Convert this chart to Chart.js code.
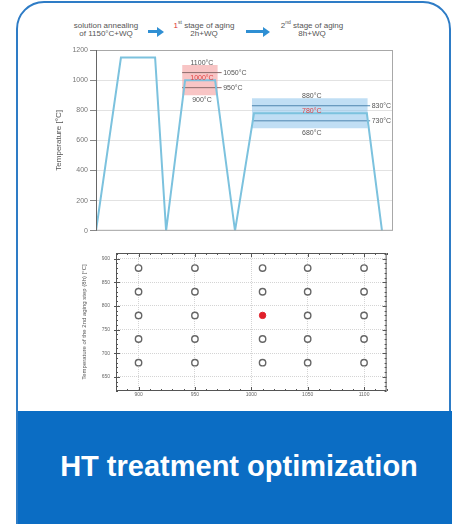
<!DOCTYPE html>
<html><head><meta charset="utf-8">
<script src="https://cdn.jsdelivr.net/npm/chart.js@4.4.1/dist/chart.umd.min.js"></script>
<style>
html,body{margin:0;padding:0;background:#fff;width:452px;height:524px;overflow:hidden;font-family:"Liberation Sans",Arial,sans-serif;}
#card{position:absolute;left:16px;top:1px;width:435px;height:540px;border:2.5px solid #2e7cc6;border-radius:28px 28px 0 0;box-sizing:border-box;background:#fff;}
#banner{position:absolute;left:18px;top:411px;width:434px;height:113px;background:#0b6dc4;}
#bannerText{position:absolute;left:18px;top:411px;width:442px;height:113px;line-height:110px;text-align:center;color:#fff;font-weight:bold;font-size:29px;font-family:"Liberation Sans",Arial,sans-serif;}
.hdr{position:absolute;top:22px;font-size:8px;line-height:8px;color:#555;text-align:center;white-space:nowrap;}
.arrow{position:absolute;height:3px;background:#2f8fd3;}
.arrow:after{content:"";position:absolute;right:-6px;top:-3.5px;border-left:7px solid #2f8fd3;border-top:5px solid transparent;border-bottom:5px solid transparent;}
canvas{position:absolute;}
</style></head>
<body>
<div id="card"></div>
<div class="hdr" style="left:66px;width:80px;">solution annealing<br>of 1150°C+WQ</div>
<div class="arrow" style="left:148px;top:30px;width:10px;"></div>
<div class="hdr" style="left:166px;width:76px;"><span style="color:#d33">1</span><sup style="font-size:5px;line-height:0">st</sup> stage of aging<br>2h+WQ</div>
<div class="arrow" style="left:246px;top:30px;width:18px;"></div>
<div class="hdr" style="left:272px;width:80px;">2<sup style="font-size:5px;line-height:0">nd</sup> stage of aging<br>8h+WQ</div>
<canvas id="top" width="346" height="197" style="left:52px;top:40px;"></canvas>
<canvas id="bot" width="314" height="161" style="left:78px;top:244px;"></canvas>
<div id="banner"></div>
<div id="bannerText">HT treatment optimization</div>
<script>
// ---- Top chart: heat-treatment temperature profile ----
const profileTime = [0, 8.4, 19.9, 23.6, 30, 40.1, 46.8, 53.2, 91.2, 96.3];
const profileTemp = [0, 1150, 1150, 0, 1000, 1000, 0, 780, 780, 0];
const tempTicks = [0, 200, 400, 600, 800, 1000, 1200];
const stage1Span = [29, 41];
const stage1Band = [900, 1100];
const stage1Hold = 1000;
const stage1Refs = [1050, 950];
const stage1RefEnd = 42.3;
const stage2Span = [52.5, 91.5];
const stage2Band = [680, 880];
const stage2Hold = 780;
const stage2Refs = [830, 730];
const stage2RefEnd = 92.3;

// ---- Bottom chart: tested parameter grid ----
const aging1Temps = [900, 950, 1010, 1050, 1100];
const aging2Temps = [680, 730, 780, 830, 880];
const optimum = {x: 1010, y: 780};
const xTicksBot = [900, 950, 1000, 1050, 1100];
const yTicksBot = [650, 700, 750, 800, 850, 900];

const FONT = "'Liberation Sans', Arial, sans-serif";
const plain = v => String(v);

function seg(x0, x1, y) { return [{x: x0, y: y}, {x: x1, y: y}]; }

const profile = profileTime.map((t, i) => ({x: t, y: profileTemp[i]}));

const topDatasets = [
  {label: 'profile', data: profile, borderColor: '#7cc2de', borderWidth: 2, pointRadius: 0, fill: false, order: 0, tension: 0},
  {label: 'b1hi', data: seg(stage1Span[0], stage1Span[1], stage1Band[1]), borderWidth: 0, borderColor: 'rgba(0,0,0,0)', pointRadius: 0, fill: '+1', backgroundColor: 'rgba(242,150,150,0.55)', order: 3},
  {label: 'b1lo', data: seg(stage1Span[0], stage1Span[1], stage1Band[0]), borderWidth: 0, borderColor: 'rgba(0,0,0,0)', pointRadius: 0, fill: false, order: 3},
  {label: 'b2hi', data: seg(stage2Span[0], stage2Span[1], stage2Band[1]), borderWidth: 0, borderColor: 'rgba(0,0,0,0)', pointRadius: 0, fill: '+1', backgroundColor: 'rgba(150,200,236,0.6)', order: 3},
  {label: 'b2lo', data: seg(stage2Span[0], stage2Span[1], stage2Band[0]), borderWidth: 0, borderColor: 'rgba(0,0,0,0)', pointRadius: 0, fill: false, order: 3},
];
stage1Refs.forEach(v => topDatasets.push({label: 'r1_' + v, refLabel: v + '°C', data: seg(stage1Span[0], stage1RefEnd, v), borderColor: '#8a6a6a', borderWidth: 1, pointRadius: 0, fill: false, order: 1}));
stage2Refs.forEach(v => topDatasets.push({label: 'r2_' + v, refLabel: v + '°C', data: seg(stage2Span[0], stage2RefEnd, v), borderColor: '#4f86b0', borderWidth: 1, pointRadius: 0, fill: false, order: 1}));

const topLabels = {
  id: 'topLabels',
  afterDatasetsDraw(chart) {
    const ctx = chart.ctx, xs = chart.scales.x, ys = chart.scales.y, a = chart.chartArea;
    ctx.save();
    ctx.strokeStyle = '#a8a8a8'; ctx.lineWidth = 1;
    ctx.strokeRect(a.left + 0.5, a.top + 0.5, a.right - a.left - 1, a.bottom - a.top - 1);
    ctx.strokeStyle = '#666';
    ctx.beginPath(); ctx.moveTo(a.left + 0.5, a.top); ctx.lineTo(a.left + 0.5, a.bottom); ctx.stroke();
    ctx.font = '7px ' + FONT;
    ctx.textAlign = 'center';
    const stages = [[stage1Span, stage1Band, stage1Hold], [stage2Span, stage2Band, stage2Hold]];
    stages.forEach(([span, band, hold]) => {
      const cx = xs.getPixelForValue((span[0] + span[1]) / 2) + 2;
      ctx.fillStyle = '#555';
      ctx.textBaseline = 'bottom';
      ctx.fillText(band[1] + '°C', cx, ys.getPixelForValue(band[1]) + 1);
      ctx.textBaseline = 'top';
      ctx.fillText(band[0] + '°C', cx, ys.getPixelForValue(band[0]) + 1);
      ctx.fillStyle = '#e04040';
      ctx.textBaseline = 'bottom';
      ctx.fillText(hold + '°C', cx, ys.getPixelForValue(hold) + 1);
    });
    ctx.textAlign = 'left'; ctx.textBaseline = 'middle'; ctx.fillStyle = '#555';
    chart.data.datasets.forEach((ds, i) => {
      if (!ds.refLabel) return;
      const pts = chart.getDatasetMeta(i).data;
      const p = pts[pts.length - 1];
      ctx.fillText(ds.refLabel, p.x + 1.5, p.y);
    });
    ctx.restore();
  }
};

new Chart(document.getElementById('top'), {
  type: 'line',
  data: {datasets: topDatasets},
  options: {
    responsive: false, animation: false, devicePixelRatio: 1,
    layout: {padding: {top: 10, right: 5, bottom: 4, left: 0}},
    plugins: {legend: {display: false}, tooltip: {enabled: false}},
    scales: {
      x: {type: 'linear', min: 0, max: 100, display: false},
      y: {
        min: 0, max: 1200,
        afterFit: s => { s.width = 44; },
        afterBuildTicks: s => { s.ticks = tempTicks.map(v => ({value: v})); },
        ticks: {font: {size: 7, family: FONT}, color: '#777', padding: 2, callback: plain},
        grid: {color: '#e2e2e2', tickLength: 6, drawTicks: true, tickColor: '#888'},
        border: {display: false},
        title: {display: true, text: 'Temperature [°C]', font: {size: 8, family: FONT}, color: '#555', padding: {top: 2, bottom: 2}}
      }
    }
  },
  plugins: [topLabels]
});

// ---- Bottom chart ----
const gridPts = [];
aging1Temps.forEach(x => aging2Temps.forEach(y => {
  if (!(x === optimum.x && y === optimum.y)) gridPts.push({x: x, y: y});
}));

const frameTicks = {
  id: 'frameTicks',
  afterDraw(chart) {
    const ctx = chart.ctx, xs = chart.scales.x, ys = chart.scales.y, a = chart.chartArea;
    ctx.save();
    ctx.strokeStyle = '#555'; ctx.lineWidth = 1;
    ctx.strokeRect(a.left + 0.5, a.top + 0.5, a.right - a.left - 1, a.bottom - a.top - 1);
    ctx.beginPath();
    for (let v = Math.ceil(xs.min / 10) * 10; v <= xs.max; v += 10) {
      const px = Math.round(xs.getPixelForValue(v)) + 0.5;
      const L = v % 50 === 0 ? 4 : 2;
      ctx.moveTo(px, a.bottom); ctx.lineTo(px, a.bottom - L);
      ctx.moveTo(px, a.top); ctx.lineTo(px, a.top + L);
    }
    for (let v = Math.ceil(ys.min / 10) * 10; v <= ys.max; v += 10) {
      const py = Math.round(ys.getPixelForValue(v)) + 0.5;
      const L = v % 50 === 0 ? 4 : 2;
      ctx.moveTo(a.left - (L > 2 ? 2 : 0), py); ctx.lineTo(a.left + L, py);
      ctx.moveTo(a.right, py); ctx.lineTo(a.right - L, py);
    }
    ctx.stroke();
    ctx.restore();
  }
};

new Chart(document.getElementById('bot'), {
  type: 'scatter',
  data: {datasets: [
    {data: gridPts, pointRadius: 3.2, pointBorderWidth: 1.4, pointBorderColor: '#666', pointBackgroundColor: 'rgba(255,255,255,1)', order: 1},
    {data: [optimum], pointRadius: 3.2, pointBorderWidth: 1, pointBorderColor: '#e0202a', pointBackgroundColor: '#e0202a', order: 0}
  ]},
  options: {
    responsive: false, animation: false, devicePixelRatio: 1,
    layout: {padding: {top: 8, right: 4, bottom: 2, left: 0}},
    plugins: {legend: {display: false}, tooltip: {enabled: false}},
    scales: {
      x: {
        type: 'linear', min: 880, max: 1120,
        afterFit: s => { s.height = 12; },
        afterBuildTicks: s => { s.ticks = xTicksBot.map(v => ({value: v})); },
        ticks: {font: {size: 5, family: FONT}, color: '#666', padding: 1, callback: plain},
        grid: {color: '#d4d4d4', tickLength: 2, drawTicks: false},
        border: {display: false, dash: [1, 1]}
      },
      y: {
        min: 620, max: 912,
        afterFit: s => { s.width = 38; },
        afterBuildTicks: s => { s.ticks = yTicksBot.map(v => ({value: v})); },
        ticks: {font: {size: 5, family: FONT}, color: '#666', padding: 6, callback: plain},
        grid: {color: '#d4d4d4', tickLength: 2, drawTicks: false},
        border: {display: false, dash: [1, 1]},
        title: {display: true, text: 'Temperature of the 2nd aging step (8h) [°C]', font: {size: 6, family: FONT}, color: '#555', padding: {top: 3, bottom: 2}}
      }
    }
  },
  plugins: [frameTicks]
});
</script>
</body></html>
